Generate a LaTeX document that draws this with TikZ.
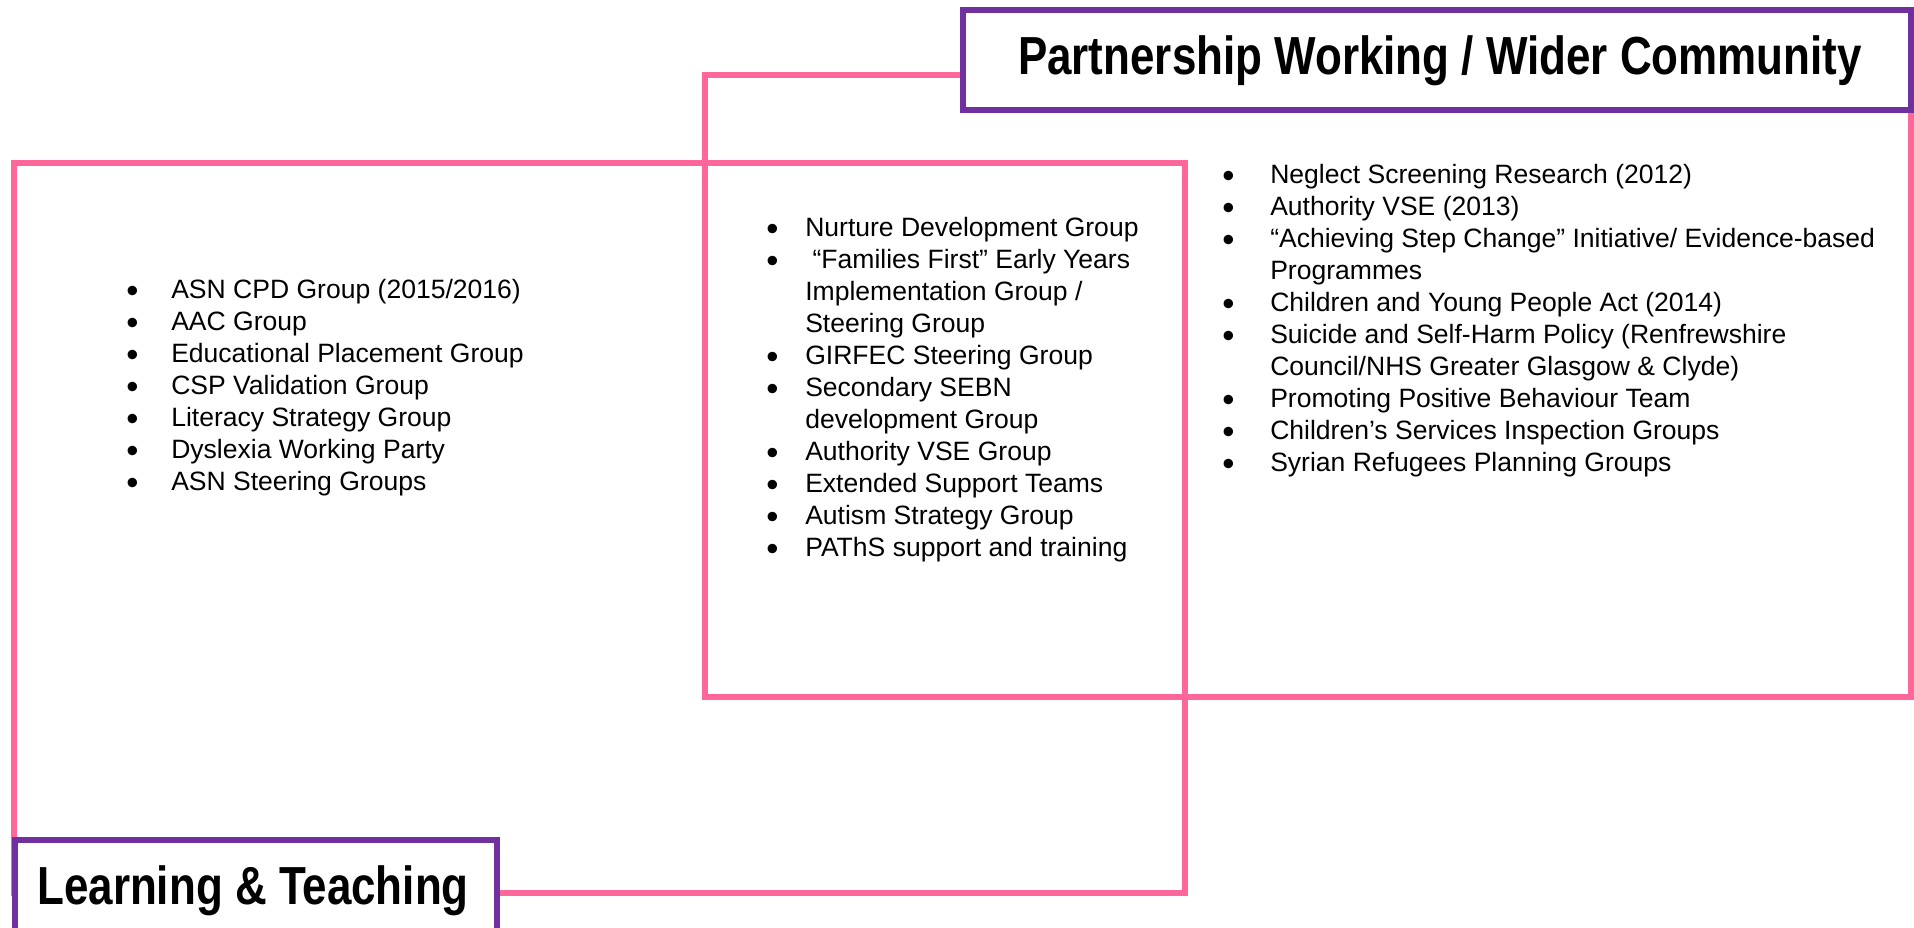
\documentclass[tikz,border=0pt]{standalone}
\usepackage{fontspec}
\setmainfont{Liberation Sans}
\newfontfamily\titlefont[FakeStretch=0.82]{Liberation Sans}
\definecolor{pinkline}{HTML}{FF6699}
\definecolor{boxpurple}{HTML}{7030A0}
\newlength\hangw
\newcommand{\bul}[1]{\hbox{\makebox[\hangw][l]{\raisebox{-3pt}{\fontsize{26pt}{24pt}\selectfont •}}#1}}
\newcommand{\cont}[1]{\hbox{\hspace*{\hangw}#1}}
\tikzset{
  x=0.75pt, y=-0.75pt,
  region/.style={draw=pinkline, line width=4.9pt},
  titlebox/.style={draw=boxpurple, line width=4.5pt, fill=white},
  titletext/.style={font=\titlefont\bfseries\fontsize{40.2pt}{44pt}\selectfont, inner sep=0pt, anchor=base},
  listtext/.style={font=\fontsize{19.9pt}{24pt}\selectfont, inner sep=0pt, anchor=base west, align=left}
}
\begin{document}
\begin{tikzpicture}
\useasboundingbox (0,0) rectangle (1914,928);
% overlapping regions
\draw[region] (14,163) rectangle (1185,893);
\draw[region] (705,75) rectangle (1911,697);
% title boxes
\draw[titlebox] (963,9.5) rectangle (1911,110);
\node[titletext] (pwtitle) at (1440,74) {Partnership Working / Wider Community};
\draw[titlebox] (14.5,840) rectangle (497,945);
\node[titletext] (lttitle) at (253,904) {Learning \& Teaching};
% lists
\node[listtext] (leftlist) at (126,298) {\vtop{\setlength\hangw{33.75pt}\baselineskip=24pt
  \bul{ASN CPD Group (2015/2016)}
  \bul{AAC Group}
  \bul{Educational Placement Group}
  \bul{CSP Validation Group}
  \bul{Literacy Strategy Group}
  \bul{Dyslexia Working Party}
  \bul{ASN Steering Groups}}};
\node[listtext] (midlist) at (766,236) {\vtop{\setlength\hangw{29.25pt}\baselineskip=24pt
  \bul{Nurture Development Group}
  \bul{\hspace*{0.278em}“Families First” Early Years}
  \cont{Implementation Group /}
  \cont{Steering Group}
  \bul{GIRFEC Steering Group}
  \bul{Secondary SEBN}
  \cont{development Group}
  \bul{Authority VSE Group}
  \bul{Extended Support Teams}
  \bul{Autism Strategy Group}
  \bul{PAThS support and training}}};
\node[listtext] (rightlist) at (1222,183) {\vtop{\setlength\hangw{36pt}\baselineskip=24pt
  \bul{Neglect Screening Research (2012)}
  \bul{Authority VSE (2013)}
  \bul{“Achieving Step Change” Initiative/ Evidence-based}
  \cont{Programmes}
  \bul{Children and Young People Act (2014)}
  \bul{Suicide and Self-Harm Policy (Renfrewshire}
  \cont{Council/NHS Greater Glasgow \& Clyde)}
  \bul{Promoting Positive Behaviour Team}
  \bul{Children’s Services Inspection Groups}
  \bul{Syrian Refugees Planning Groups}}};
\end{tikzpicture}
\end{document}
